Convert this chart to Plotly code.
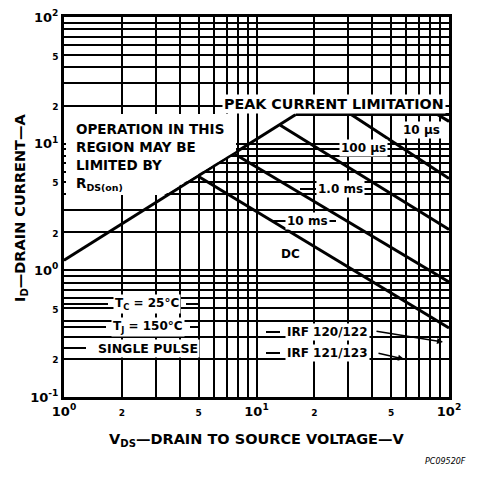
import plotly.graph_objects as go

# ---- data ----
v_rds = [1, 16]
i_rds = [1.2, 17]
v_peak = [16, 100]
i_peak = [17, 17]
v_10us = [87, 100]
i_10us = [17, 15]
v_100us = [31, 100]
i_100us = [17, 5.3]
v_1ms = [13.3, 100]
i_1ms = [14, 2.1]
v_10ms = [7.7, 100]
i_10ms = [8.3, 0.81]
v_dc = [5, 100]
i_dc = [5.5, 0.35]

x_grid = [m * d for d in (1, 10) for m in range(1, 10)] + [100]
y_grid = [m * d for d in (0.1, 1, 10) for m in range(1, 10)] + [100]

def sm(t):
    return f"<span style='font-size:9px'>{t}</span>"

x_labels = {1: "10<sup>0</sup>", 2: sm("2"), 5: sm("5"), 10: "10<sup>1</sup>",
            20: sm("2"), 50: sm("5"), 100: "10<sup>2</sup>"}
y_labels = {0.1: "10<sup>-1</sup>", 0.2: sm("2"), 0.5: sm("5"), 1: "10<sup>0</sup>",
            2: sm("2"), 5: sm("5"), 10: "10<sup>1</sup>", 20: sm("2"), 50: sm("5"),
            100: "10<sup>2</sup>"}

def lab(d, v):
    for k, t in d.items():
        if abs(k - v) < 1e-9 * max(1, v):
            return t
    return ""

FONT = "DejaVu Sans, Liberation Sans, sans-serif"

fig = go.Figure()
line = dict(color="black", width=3)
for vx, iy in [(v_rds, i_rds), (v_peak, i_peak), (v_10us, i_10us), (v_100us, i_100us),
               (v_1ms, i_1ms), (v_10ms, i_10ms), (v_dc, i_dc)]:
    fig.add_trace(go.Scatter(x=vx, y=iy, mode="lines", line=line,
                             showlegend=False, hoverinfo="skip"))

# page-pixel geometry of the plot area (page body has 8px margin)
OFF = 8
PL, PT, PR, PB = 64, 17, 449, 397
W, H = 479 - OFF, 477 - OFF
L, T = PL - OFF, PT - OFF
R, B = W - (PR - OFF), H - (PB - OFF)
PW, PH = PR - PL, PB - PT

def px(xp):
    return (xp - PL) / PW

def py(yp):
    return (PB - yp) / PH

anns = []
def add(text, x, y, size=13, xanchor="center", bg="white", align="center", **kw):
    anns.append(dict(text=text, x=px(x), y=py(y), xref="paper", yref="paper",
                     showarrow=False, xanchor=xanchor, yanchor="middle",
                     font=dict(family=FONT, size=size, color="black"),
                     bgcolor=bg, align=align, borderpad=1, **kw))

add("<b>PEAK CURRENT LIMITATION</b>", 334, 104, size=14.3)
add("<b>10 µs</b>", 421, 130, size=12)
add("<b>100 µs</b>", 363, 148, size=12)
add("<b>1.0 ms</b>", 340, 189, size=12)
add("<b>10 ms</b>", 307, 221, size=12)
add("<b>DC</b>", 290, 254, size=12)
for txt, yy in [("OPERATION IN THIS", 129), ("REGION MAY BE", 147),
                ("LIMITED BY", 165), ("R<sub>DS(on)</sub>", 184)]:
    add(f"<b>{txt}</b>", 74, yy, size=13.5, xanchor="left", bg=None, align="left")
add("<b>T<sub>C</sub> = 25°C</b>", 147, 304, size=12)
add("<b>T<sub>J</sub> = 150°C</b>", 148, 327, size=12)
add("<b>SINGLE PULSE</b>", 148, 348, size=12.5)
add("<b>IRF 120/122</b>", 327, 332, size=12)
add("<b>IRF 121/123</b>", 327, 353, size=12)
add("<b>V<sub>DS</sub>—DRAIN TO SOURCE VOLTAGE—V</b>", 256, 440, size=14.5, bg=None)
anns.append(dict(text="<b>I<sub>D</sub>—DRAIN CURRENT—A</b>", x=px(21), y=py(208),
                 xref="paper", yref="paper", showarrow=False, textangle=-90,
                 xanchor="center", yanchor="middle",
                 font=dict(family=FONT, size=14.5, color="black")))
anns.append(dict(text="<i>PC09520F</i>", x=px(468), y=py(468), xref="paper", yref="paper",
                 showarrow=False, xanchor="right",
                 font=dict(family=FONT, size=8, color="black")))
# arrows from IRF labels
for (x0, y0, x1, y1) in [(375, 331, 443, 342), (377, 353, 404, 359)]:
    anns.append(dict(x=px(x1), y=py(y1), ax=x0 - x1, ay=y0 - y1, xref="paper", yref="paper",
                     axref="pixel", ayref="pixel", text="", showarrow=True,
                     arrowhead=2, arrowsize=0.8, arrowwidth=1.5, arrowcolor="black"))

shapes = []
# white area behind the R_DS(on) text, kept just left of the R_DS(on) line
pts = [(66, 114), (236, 114), (236, 151), (164, 195), (66, 195)]
path = "M " + " L ".join(f"{px(a)},{py(b)}" for a, b in pts) + " Z"
shapes.append(dict(type="path", xref="paper", yref="paper", path=path,
                   fillcolor="white", line=dict(width=0), layer="above"))

def seg(x0, y0, x1, y1, w=2):
    shapes.append(dict(type="line", xref="paper", yref="paper", x0=px(x0), y0=py(y0),
                       x1=px(x1), y1=py(y1), line=dict(color="black", width=w)))
# leader lines to labels
seg(305, 149, 336, 149); seg(390, 149, 400, 149)
seg(300, 189, 316, 189); seg(364, 189, 372, 189)
seg(272, 221, 286, 221); seg(328, 221, 336, 221)
seg(64, 304, 108, 304); seg(186, 304, 198, 304)
seg(64, 327, 106, 327); seg(190, 327, 198, 327)
seg(64, 348, 86, 348)
seg(266, 332, 280, 332); seg(266, 353, 280, 353)

fig.update_layout(
    width=W, height=H, margin=dict(l=L, r=R, t=T, b=B, autoexpand=False),
    paper_bgcolor="white", plot_bgcolor="white",
    font=dict(family=FONT, size=13, color="black"),
    annotations=anns, shapes=shapes,
    xaxis=dict(type="log", range=[0, 2], tickvals=x_grid,
               ticktext=[f"<b>{lab(x_labels, v)}</b>" if lab(x_labels, v) else "" for v in x_grid],
               showgrid=True, gridcolor="black", gridwidth=1.6,
               showline=True, linecolor="black", linewidth=3, mirror=True,
               ticks="", tickfont=dict(size=13, family=FONT), zeroline=False,
               automargin=False),
    yaxis=dict(type="log", range=[-1, 2], tickvals=y_grid,
               ticktext=[f"<b>{lab(y_labels, v)}</b>" if lab(y_labels, v) else "" for v in y_grid],
               showgrid=True, gridcolor="black", gridwidth=1.6,
               showline=True, linecolor="black", linewidth=3, mirror=True,
               ticks="", tickfont=dict(size=13, family=FONT), zeroline=False,
               automargin=False),
)

fig.write_html("out.html")
